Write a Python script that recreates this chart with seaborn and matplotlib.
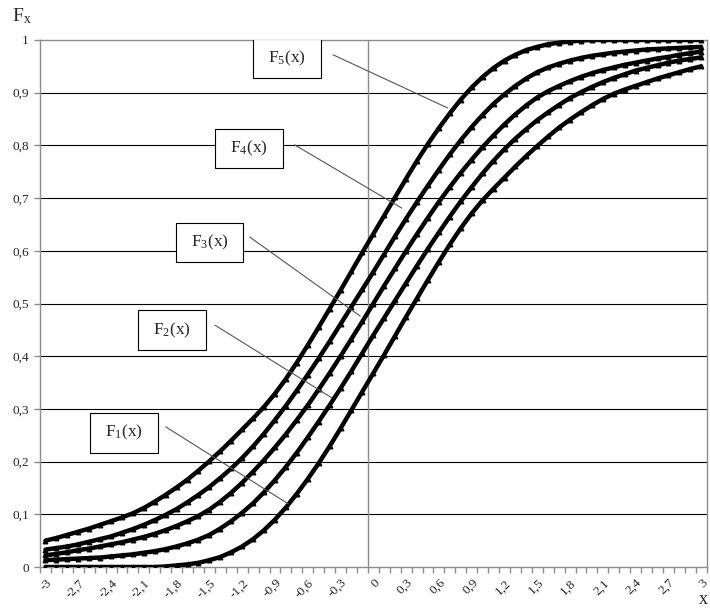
import numpy as np
import pandas as pd
import matplotlib
matplotlib.use('Agg')
import matplotlib.pyplot as plt
import matplotlib.patches as mpatches
import seaborn as sns

# x categories -3 .. 3 step 0.1 (Excel line chart categories)
x_vals = [round(-3 + 0.1 * i, 1) for i in range(61)]

# curve values
F1 = [0.000, 0.000, 0.000, 0.000, 0.000, 0.000, 0.000, 0.000, 0.000, 0.000,
      0.000, 0.001, 0.003, 0.005, 0.008, 0.013, 0.019, 0.028, 0.039, 0.053,
      0.070, 0.090, 0.113, 0.139, 0.167, 0.197, 0.229, 0.263, 0.298, 0.333,
      0.368, 0.403, 0.439, 0.475, 0.510, 0.545, 0.579, 0.612, 0.643, 0.671,
      0.696, 0.718, 0.739, 0.760, 0.780, 0.799, 0.817, 0.834, 0.849, 0.863,
      0.876, 0.888, 0.898, 0.906, 0.913, 0.920, 0.927, 0.933, 0.939, 0.945,
      0.950]
F2 = [0.013, 0.014, 0.015, 0.016, 0.017, 0.018, 0.020, 0.022, 0.024, 0.027,
      0.030, 0.034, 0.039, 0.045, 0.052, 0.061, 0.073, 0.087, 0.103, 0.121,
      0.142, 0.165, 0.190, 0.217, 0.246, 0.276, 0.307, 0.339, 0.372, 0.406,
      0.440, 0.473, 0.506, 0.539, 0.572, 0.604, 0.635, 0.665, 0.694, 0.721,
      0.747, 0.771, 0.793, 0.813, 0.831, 0.848, 0.863, 0.877, 0.890, 0.901,
      0.911, 0.920, 0.928, 0.935, 0.942, 0.947, 0.952, 0.957, 0.961, 0.964,
      0.967]
F3 = [0.022, 0.025, 0.028, 0.032, 0.035, 0.039, 0.043, 0.047, 0.052, 0.057,
      0.063, 0.070, 0.078, 0.087, 0.097, 0.109, 0.124, 0.141, 0.160, 0.181,
      0.203, 0.227, 0.252, 0.279, 0.307, 0.337, 0.368, 0.400, 0.433, 0.466,
      0.500, 0.534, 0.567, 0.600, 0.632, 0.663, 0.693, 0.721, 0.748, 0.773,
      0.797, 0.819, 0.840, 0.859, 0.876, 0.891, 0.903, 0.913, 0.922, 0.930,
      0.937, 0.943, 0.948, 0.953, 0.957, 0.961, 0.965, 0.968, 0.972, 0.975,
      0.978]
F4 = [0.033, 0.036, 0.039, 0.043, 0.048, 0.053, 0.058, 0.065, 0.072, 0.080,
      0.089, 0.099, 0.110, 0.123, 0.137, 0.152, 0.169, 0.187, 0.207, 0.229,
      0.253, 0.279, 0.306, 0.335, 0.365, 0.396, 0.428, 0.461, 0.494, 0.527,
      0.560, 0.594, 0.628, 0.661, 0.693, 0.724, 0.754, 0.783, 0.810, 0.835,
      0.858, 0.879, 0.897, 0.913, 0.927, 0.939, 0.948, 0.955, 0.961, 0.966,
      0.970, 0.973, 0.976, 0.978, 0.980, 0.982, 0.983, 0.984, 0.985, 0.986,
      0.987]
F5 = [0.050, 0.055, 0.061, 0.067, 0.073, 0.080, 0.087, 0.094, 0.102, 0.112,
      0.124, 0.137, 0.151, 0.166, 0.183, 0.201, 0.220, 0.240, 0.261, 0.282,
      0.304, 0.329, 0.357, 0.388, 0.421, 0.455, 0.490, 0.525, 0.561, 0.597,
      0.632, 0.667, 0.702, 0.737, 0.771, 0.803, 0.833, 0.861, 0.887, 0.910,
      0.930, 0.947, 0.961, 0.972, 0.981, 0.987, 0.992, 0.995, 0.997, 0.999,
      1.000, 1.000, 1.000, 1.000, 1.000, 1.000, 1.000, 1.000, 1.000, 1.000,
      1.000]

curve_names = ['1', '2', '3', '4', '5']
x_tick_vals = [-3, -2.7, -2.4, -2.1, -1.8, -1.5, -1.2, -0.9, -0.6, -0.3, 0,
               0.3, 0.6, 0.9, 1.2, 1.5, 1.8, 2.1, 2.4, 2.7, 3]
x_tick_labels = ['-3', '-2,7', '-2,4', '-2,1', '-1,8', '-1,5', '-1,2', '-0,9',
                 '-0,6', '-0,3', '0', '0,3', '0,6', '0,9', '1,2', '1,5', '1,8',
                 '2,1', '2,4', '2,7', '3']
y_tick_vals = [0, 0.1, 0.2, 0.3, 0.4, 0.5, 0.6, 0.7, 0.8, 0.9, 1]
y_tick_labels = ['0', '0,1', '0,2', '0,3', '0,4', '0,5', '0,6', '0,7', '0,8',
                 '0,9', '1']

df = pd.DataFrame({'x': x_vals * 5,
                   'F': F1 + F2 + F3 + F4 + F5,
                   'curve': sum([[n] * 61 for n in curve_names], [])})

sns.set_style('white')
plt.rcParams['font.family'] = ['Liberation Serif', 'DejaVu Serif']
plt.rcParams['mathtext.fontset'] = 'custom'
plt.rcParams['mathtext.rm'] = 'Liberation Serif'
plt.rcParams['mathtext.it'] = 'Liberation Serif:italic'

fig = plt.figure(figsize=(7.1, 6.11), dpi=100)
ax = fig.add_axes([40 / 710, 1 - 567 / 611, 666.7 / 710, 527 / 611])

grey = '#8c8c8c'

# horizontal gridlines
for v in y_tick_vals[1:-1]:
    ax.axhline(v, color='black', lw=0.8, zorder=1)
# vertical axis line (crosses between categories)
ax.axvline(-0.05, color=grey, lw=1.0, zorder=1)

for n in curve_names:
    sns.lineplot(data=df[df['curve'] == n], x='x', y='F', color='black',
                 linewidth=3.2, marker='^', markersize=3.5,
                 markeredgecolor='black', ax=ax, zorder=3, legend=False)

ax.set_xlim(-3.05, 3.05)
ax.set_ylim(0, 1)
ax.set_xlabel('')
ax.set_ylabel('')

ax.set_xticks(x_tick_vals)
ax.set_xticklabels(x_tick_labels, rotation=45, ha='right',
                   rotation_mode='anchor', fontsize=9.5)
ax.set_xticks([-3.05 + 0.1 * k for k in range(62)], minor=True)
ax.tick_params(axis='x', which='major', length=0, pad=7)
ax.tick_params(axis='x', which='minor', length=4, color=grey, direction='out',
               width=1, bottom=True)
ax.set_yticks(y_tick_vals)
ax.set_yticklabels(y_tick_labels, fontsize=9.5)
ax.tick_params(axis='y', length=4, color=grey, direction='out', width=1,
               left=True, pad=4)

for side in ['top', 'bottom', 'left', 'right']:
    ax.spines[side].set_color(grey)
    ax.spines[side].set_linewidth(1.0)

# curve labels: box (left, bottom) in data coords, leader line start/end
labels = {
    '5': ((-1.10, 0.927), (-0.37, 0.972), (0.68, 0.871)),
    '4': ((-1.45, 0.757), (-0.72, 0.801), (0.26, 0.681)),
    '3': ((-1.81, 0.578), (-1.13, 0.626), (-0.12, 0.476)),
    '2': ((-2.15, 0.412), (-1.45, 0.459), (-0.38, 0.321)),
    '1': ((-2.59, 0.217), (-1.90, 0.266), (-0.78, 0.120)),
}
bw, bh = 0.62, 0.075
for n, (corner, p0, p1) in labels.items():
    rect = mpatches.Rectangle(corner, bw, bh, facecolor='white',
                              edgecolor='black', lw=0.8, zorder=4)
    ax.add_patch(rect)
    ax.text(corner[0] + bw / 2, corner[1] + bh / 2,
            r'F$_{\mathrm{' + n + r'}}$(x)', ha='center', va='center',
            fontsize=12.5, zorder=5)
    ax.plot([p0[0], p1[0]], [p0[1], p1[1]], color='#555555', lw=0.8,
            zorder=4)

fig.text(12 / 710, 1 - 16 / 611, r'F$_{\mathrm{x}}$', fontsize=14,
         ha='left', va='center')
fig.text(699 / 710, 1 - 600 / 611, 'x', fontsize=13, ha='left',
         va='center')

fig.savefig('out.png', dpi=100)
